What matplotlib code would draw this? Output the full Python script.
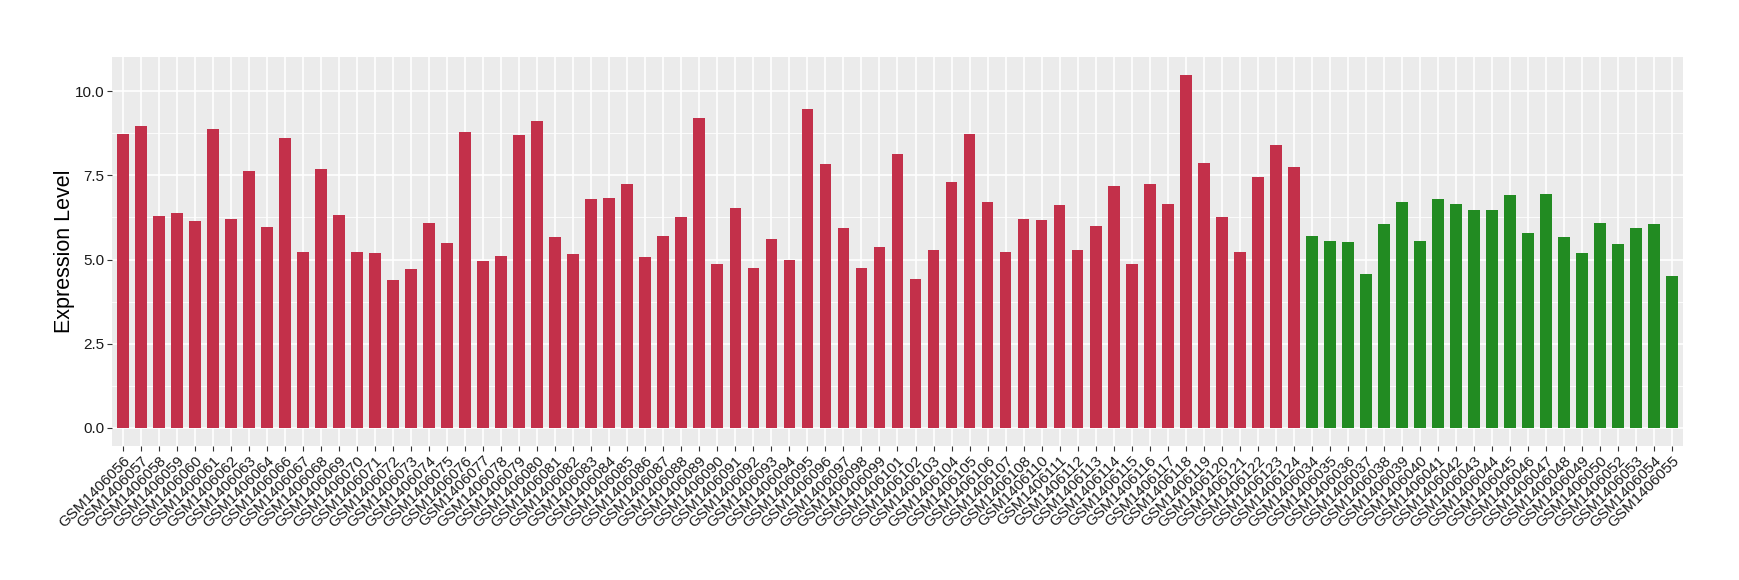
import matplotlib
matplotlib.use("Agg")
import matplotlib.pyplot as plt
import numpy as np

plt.rcParams["font.family"] = ["Liberation Sans", "DejaVu Sans"]

tumor_ids = (
    [f"GSM14060{n:02d}" for n in range(56, 65)]
    + [f"GSM14060{n:02d}" for n in range(66, 100)]
    + [f"GSM1406{n}" for n in range(101, 109)]
    + [f"GSM1406{n}" for n in range(110, 125)]
)
tumor_values = [
    8.72, 8.95, 6.29, 6.38, 6.14, 8.86, 6.20, 7.62, 5.96,
    8.60, 5.22, 7.68, 6.32, 5.22, 5.19, 4.39, 4.72, 6.08, 5.49, 8.78,
    4.96, 5.10, 8.69, 9.10, 5.67, 5.16, 6.79, 6.82, 7.24, 5.07, 5.70,
    6.26, 9.19, 4.87, 6.53, 4.75, 5.61, 4.99, 9.46, 7.83, 5.93, 4.75, 5.37,
    8.12, 4.42, 5.28, 7.30, 8.72, 6.70, 5.22, 6.20,
    6.17, 6.61, 5.28, 5.99, 7.18, 4.87, 7.24, 6.64, 10.49, 7.86, 6.26,
    5.22, 7.44, 8.39, 7.74,
]

normal_ids = (
    [f"GSM14060{n:02d}" for n in range(34, 51)]
    + [f"GSM14060{n:02d}" for n in range(52, 56)]
)
normal_values = [
    5.70, 5.55, 5.52, 4.57, 6.05, 6.70, 5.55, 6.79, 6.64, 6.47, 6.47,
    6.91, 5.78, 6.94, 5.67, 5.19, 6.08, 5.46, 5.93, 6.05, 4.51,
]

tumor_color = "#C3304A"
normal_color = "#228B22"

labels = tumor_ids + normal_ids
values = tumor_values + normal_values
colors = [tumor_color] * len(tumor_ids) + [normal_color] * len(normal_ids)
x = np.arange(len(labels))

fig = plt.figure(figsize=(17.4, 5.8), dpi=100)
ax = fig.add_axes([0.0644, 0.2316, 0.9028, 0.6706])
ax.set_facecolor("#EBEBEB")
ax.bar(x, values, width=0.65, color=colors, zorder=3)

ax.set_xlim(-0.6, len(labels) - 0.4)
ax.set_ylim(-0.525, 11.02)
major = [0, 2.5, 5.0, 7.5, 10.0]
ax.set_yticks(major)
ax.set_yticklabels([f"{v:.1f}" for v in major], fontsize=11, color="#1A1A1A")
ax.set_yticks([1.25, 3.75, 6.25, 8.75], minor=True)
ax.set_xticks(x)
ax.set_xticklabels(labels, rotation=45, ha="right", rotation_mode="anchor",
                   fontsize=11, color="#1A1A1A")

ax.grid(which="major", color="white", linewidth=1.2, zorder=0)
ax.grid(which="minor", axis="y", color="white", linewidth=0.6, zorder=0)
ax.tick_params(axis="both", which="major", length=3.5, color="#333333",
               width=0.8, pad=2)
ax.tick_params(axis="y", which="minor", length=0)
for spine in ax.spines.values():
    spine.set_visible(False)

ax.set_ylabel("Expression Level", fontsize=15.5, labelpad=0)

fig.savefig("out.png", dpi=100, facecolor="white")
